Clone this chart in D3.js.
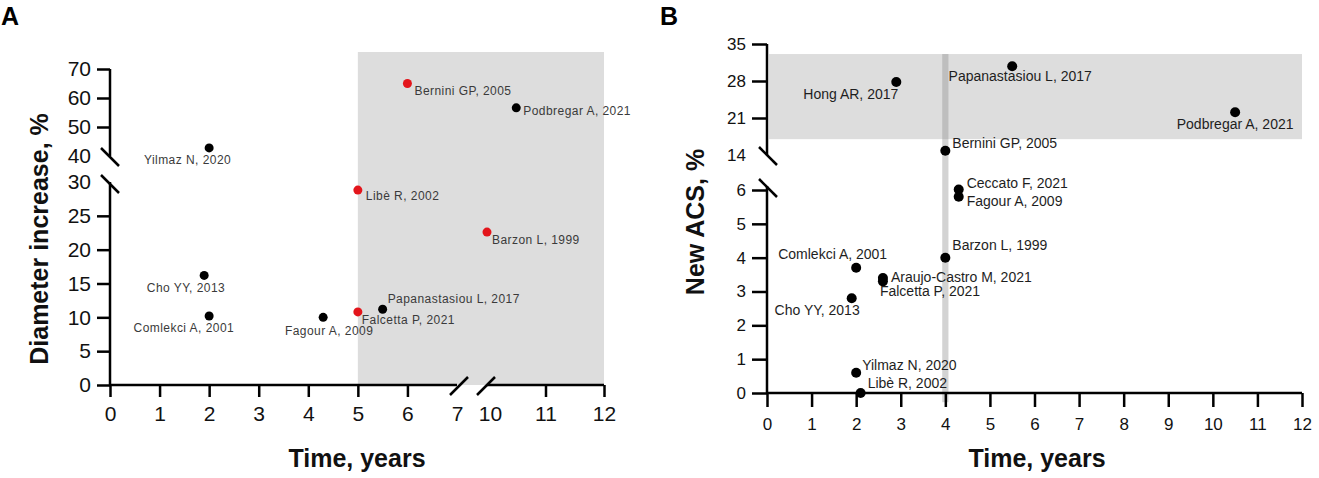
<!DOCTYPE html>
<meta charset="utf-8">
<style>
body { margin: 0; background: #fff; }
svg { font-family: "Liberation Sans", Arial, sans-serif; }
.axis-line { stroke: #000; stroke-width: 2.5px; fill: none; }
.tick line { stroke: #000; stroke-width: 2.5px; }
.tick text { fill: #111; }
.title { font-weight: bold; font-size: 25px; fill: #111; }
.panel { font-weight: bold; font-size: 25px; fill: #000; }
.lblA { font-size: 12px; fill: #3a3a3a; letter-spacing: 0.45px; }
.lblB { font-size: 14px; fill: #1e1e1e; }
</style>
<body>
<script src="https://cdnjs.cloudflare.com/ajax/libs/d3/7.8.5/d3.min.js"></script>
<script>

// ---- data, panel A (diameter increase) ----
var studiesA = ["Yilmaz N, 2020", "Bernini GP, 2005", "Podbregar A, 2021", "Libè R, 2002",
                "Barzon L, 1999", "Cho YY, 2013", "Comlekci A, 2001", "Fagour A, 2009",
                "Falcetta P, 2021", "Papanastasiou L, 2017"];
var timeA = [2, 6, 10.5, 5, 10, 1.9, 2, 4.3, 5, 5.5];
var diamA = [42.8, 65, 56.6, 28.8, 22.6, 16.2, 10.2, 10.0, 10.8, 11.2];
var redA  = [false, true, false, true, true, false, false, false, true, false];
var xTicksA = [0, 1, 2, 3, 4, 5, 6, 7, 10, 11, 12];
var yTicksA = [0, 5, 10, 15, 20, 25, 30, 40, 50, 60, 70];
var shadeA = { x0: 5, x1: 12, y0: 0, y1: 76 };

// ---- data, panel B (new ACS) ----
var studiesB = ["Hong AR, 2017", "Papanastasiou L, 2017", "Podbregar A, 2021", "Bernini GP, 2005",
                "Ceccato F, 2021", "Fagour A, 2009", "Barzon L, 1999", "Comlekci A, 2001",
                "Araujo-Castro M, 2021", "Falcetta P, 2021", "Cho YY, 2013", "Yilmaz N, 2020",
                "Libè R, 2002"];
var timeB = [2.9, 5.5, 10.5, 4, 4.3, 4.3, 4, 2, 2.6, 2.6, 1.9, 2, 2.1];
var acsB  = [27.8, 30.8, 22.1, 14.8, 6.1, 5.8, 4.0, 3.7, 3.4, 3.3, 2.8, 0.6, 0];
var xTicksB = d3.range(0, 13);
var yTicksB = [0, 1, 2, 3, 4, 5, 6, 14, 21, 28, 35];
var bandB = { x0: 0, x1: 12, y0: 17, y1: 33.1 };
var lineB = { x0: 3.93, x1: 4.07, y0: -0.27, y1: 33.1 };

// label placement (layout only)
var labA = [[22, 16, "end"], [7, 11, "start"], [7, 7, "start"], [8, 10, "start"], [5, 12, "start"],
            [21, 17, "end"], [25, 16, "end"], [6, 18, "middle"], [4, 12, "start"], [5, -6, "start"]];
var labB = [[2, 17, "end"], [8, 15, "middle"], [0, 17, "middle"], [7, -3, "start"], [8, -2, "start"],
            [8, 9, "start"], [7, -8, "start"], [31, -9, "end"], [8, 4, "start"], [-3, 15, "start"],
            [8, 17, "end"], [6, -3, "start"], [7, -5, "start"]];

var svg = d3.select("body").append("svg")
    .attr("width", 1319).attr("height", 478);

function slash(g, cx, cy, dir) {
    // short diagonal break mark
    g.append("line").attr("class", "axis-line")
        .attr("x1", cx - 9).attr("x2", cx + 9)
        .attr("y1", cy + (dir === "\\" ? -9 : 9)).attr("y2", cy + (dir === "\\" ? 9 : -9));
}

// ================= panel A =================
var gA = svg.append("g");
var xA = d3.scaleLinear().domain([0, 7, 10, 12]).range([110, 457, 487, 604]);
var yA = d3.scaleLinear().domain([0, 30, 40, 70, 76]).range([385, 182, 156, 69, 52]);

gA.append("rect")
    .attr("x", xA(shadeA.x0)).attr("y", yA(shadeA.y1))
    .attr("width", xA(shadeA.x1) - xA(shadeA.x0))
    .attr("height", yA(shadeA.y0) - yA(shadeA.y1))
    .attr("fill", "#dddddd");

var axYA = gA.append("g").attr("transform", "translate(110,0)")
    .call(d3.axisLeft(yA).tickValues(yTicksA).tickSize(13).tickPadding(6));
axYA.select(".domain").remove();
axYA.selectAll(".tick").filter(function(d) { return d === 30 || d === 40; })
    .select("line").remove();
axYA.selectAll("text").style("font-size", "21px");

var axXA = gA.append("g").attr("transform", "translate(0,385)")
    .call(d3.axisBottom(xA).tickValues(xTicksA).tickSize(12).tickPadding(9));
axXA.select(".domain").remove();
axXA.selectAll(".tick").filter(function(d) { return d === 7 || d === 10; })
    .select("line").remove();
axXA.selectAll("text").style("font-size", "21px");
axXA.selectAll(".tick").filter(function(d) { return d === 10; })
    .select("text").attr("dx", 3);

// axis segments and break marks
gA.append("path").attr("class", "axis-line")
    .attr("d", d3.line()([[110, yA(70)], [110, yA(40)]]));
gA.append("path").attr("class", "axis-line")
    .attr("d", d3.line()([[110, yA(30)], [110, yA(0)], [xA(7), yA(0)]]));
gA.append("path").attr("class", "axis-line")
    .attr("d", d3.line()([[xA(10), yA(0)], [xA(12), yA(0)]]));
slash(gA, 110, yA(40) + 1, "\\");
slash(gA, 110, yA(30) + 2, "\\");
slash(gA, xA(7) + 2, yA(0) + 1, "/");
slash(gA, xA(10) - 1, yA(0) + 1, "/");

var ptsA = studiesA.map(function(s, i) {
    return { name: s, t: timeA[i], v: diamA[i], red: redA[i], lab: labA[i] };
});
gA.selectAll(".dotA").data(ptsA).enter().append("circle")
    .attr("cx", function(d) { return xA(d.t); })
    .attr("cy", function(d) { return yA(d.v); })
    .attr("r", 4.5)
    .attr("fill", function(d) { return d.red ? "#e3151b" : "#000"; });
gA.selectAll(".lblA").data(ptsA).enter().append("text")
    .attr("class", "lblA")
    .attr("x", function(d) { return xA(d.t) + d.lab[0]; })
    .attr("y", function(d) { return yA(d.v) + d.lab[1]; })
    .attr("text-anchor", function(d) { return d.lab[2]; })
    .text(function(d) { return d.name; });

gA.append("text").attr("class", "title")
    .attr("transform", "translate(48,239) rotate(-90)")
    .attr("text-anchor", "middle").text("Diameter increase, %");
gA.append("text").attr("class", "title")
    .attr("x", 357).attr("y", 467).attr("text-anchor", "middle").text("Time, years");
gA.append("text").attr("class", "panel").attr("x", 1).attr("y", 25).text("A");

// ================= panel B =================
var gB = svg.append("g");
var xB = d3.scaleLinear().domain([0, 12]).range([767, 1302]);
var yB = d3.scaleLinear().domain([-1, 0, 6, 14, 35]).range([427, 393, 190, 155, 44]);

gB.append("rect")
    .attr("x", xB(bandB.x0) + 2).attr("y", yB(bandB.y1))
    .attr("width", xB(bandB.x1) - xB(bandB.x0) - 2)
    .attr("height", yB(bandB.y0) - yB(bandB.y1))
    .attr("fill", "#dddddd");
gB.append("rect")
    .attr("x", xB(lineB.x0)).attr("y", yB(lineB.y1))
    .attr("width", xB(lineB.x1) - xB(lineB.x0))
    .attr("height", yB(lineB.y0) - yB(lineB.y1))
    .attr("fill", "#8c8c8c").attr("opacity", 0.38);

var axYB = gB.append("g").attr("transform", "translate(767,0)")
    .call(d3.axisLeft(yB).tickValues(yTicksB).tickSize(15).tickPadding(6));
axYB.select(".domain").remove();
axYB.selectAll(".tick").filter(function(d) { return d === 14; })
    .select("line").remove();
axYB.selectAll("text").style("font-size", "17px");

var axXB = gB.append("g").attr("transform", "translate(0,393)")
    .call(d3.axisBottom(xB).tickValues(xTicksB).tickSize(14).tickPadding(11));
axXB.select(".domain").remove();
axXB.selectAll("text").style("font-size", "17px");

gB.append("path").attr("class", "axis-line")
    .attr("d", d3.line()([[767, yB(35)], [767, yB(14)]]));
gB.append("path").attr("class", "axis-line")
    .attr("d", d3.line()([[767, yB(6) - 4], [767, yB(0)], [xB(12), yB(0)]]));
slash(gB, 768, yB(14) + 1, "\\");
slash(gB, 768, yB(6) - 2, "\\");

var ptsB = studiesB.map(function(s, i) {
    return { name: s, t: timeB[i], v: acsB[i], lab: labB[i] };
});
gB.selectAll(".dotB").data(ptsB).enter().append("circle")
    .attr("cx", function(d) { return xB(d.t); })
    .attr("cy", function(d) { return yB(d.v); })
    .attr("r", 5)
    .attr("fill", "#000");
gB.selectAll(".lblB").data(ptsB).enter().append("text")
    .attr("class", "lblB")
    .attr("x", function(d) { return xB(d.t) + d.lab[0]; })
    .attr("y", function(d) { return yB(d.v) + d.lab[1]; })
    .attr("text-anchor", function(d) { return d.lab[2]; })
    .text(function(d) { return d.name; });

gB.append("text").attr("class", "title")
    .attr("transform", "translate(704,222) rotate(-90)")
    .attr("text-anchor", "middle").text("New ACS, %");
gB.append("text").attr("class", "title")
    .attr("x", 1037).attr("y", 467).attr("text-anchor", "middle").text("Time, years");
gB.append("text").attr("class", "panel").attr("x", 660).attr("y", 25).text("B");
</script>
</body>
